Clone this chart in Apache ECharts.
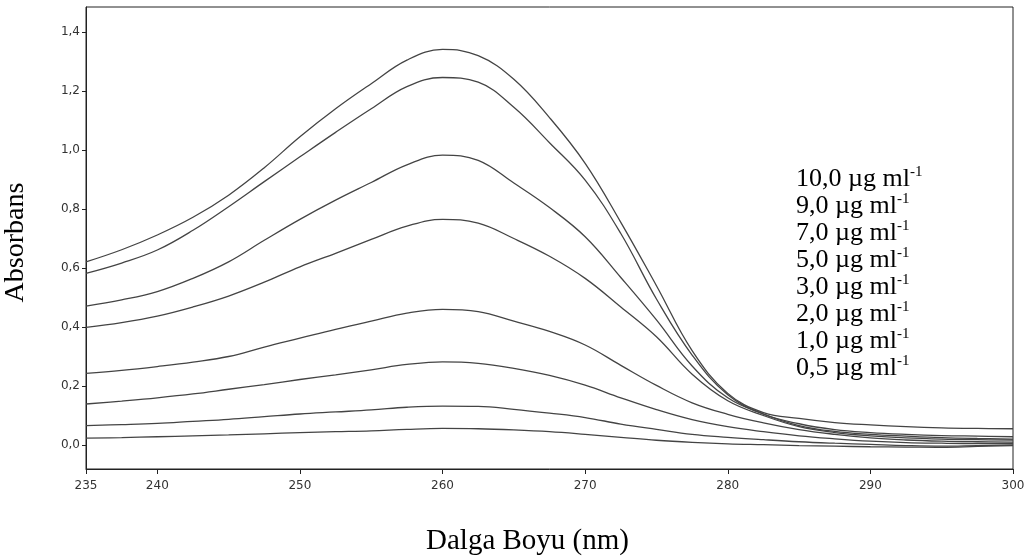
<!DOCTYPE html>
<html>
<head>
<meta charset="utf-8">
<script src="https://cdn.jsdelivr.net/npm/echarts@6/dist/echarts.min.js"></script>
<style>html,body{margin:0;padding:0;background:#fff}#c{width:1033px;height:560px}</style>
</head>
<body>
<div id="c"></div>
<script>
// Wavelengths (nm)
const wavelengths = [235, 237.5, 240, 242.5, 245, 247.5, 250, 252.5, 255, 257.5, 260, 262.5, 265, 267.5, 270, 272.5, 275, 277.5, 280, 282.5, 285, 287.5, 290, 292.5, 295, 297.5, 300];
// Concentration labels
const concentrations = ['10,0', '9,0', '7,0', '5,0', '3,0', '2,0', '1,0', '0,5'];
const unit = 'µg ml';
const unitSup = '-1';
// Absorbance values per concentration
const c10 = [0.621, 0.662, 0.712, 0.772, 0.847, 0.940, 1.045, 1.140, 1.225, 1.305, 1.341, 1.320, 1.240, 1.110, 0.955, 0.755, 0.540, 0.320, 0.175, 0.110, 0.090, 0.076, 0.068, 0.062, 0.058, 0.056, 0.055];
const c9  = [0.582, 0.617, 0.661, 0.728, 0.808, 0.893, 0.977, 1.060, 1.140, 1.215, 1.246, 1.230, 1.145, 1.025, 0.898, 0.717, 0.495, 0.305, 0.170, 0.105, 0.072, 0.052, 0.042, 0.036, 0.032, 0.030, 0.028];
const c7  = [0.471, 0.492, 0.520, 0.565, 0.621, 0.694, 0.765, 0.830, 0.890, 0.950, 0.983, 0.965, 0.888, 0.805, 0.706, 0.568, 0.424, 0.268, 0.160, 0.105, 0.066, 0.046, 0.036, 0.030, 0.025, 0.022, 0.020];
const c5  = [0.399, 0.415, 0.437, 0.468, 0.505, 0.552, 0.604, 0.650, 0.697, 0.742, 0.765, 0.752, 0.700, 0.640, 0.565, 0.468, 0.367, 0.240, 0.150, 0.100, 0.062, 0.042, 0.031, 0.024, 0.020, 0.018, 0.017];
const c3  = [0.243, 0.253, 0.266, 0.281, 0.300, 0.332, 0.362, 0.392, 0.420, 0.447, 0.460, 0.452, 0.420, 0.385, 0.339, 0.270, 0.202, 0.143, 0.104, 0.075, 0.052, 0.036, 0.024, 0.017, 0.013, 0.011, 0.010];
const c2  = [0.139, 0.149, 0.160, 0.173, 0.189, 0.205, 0.222, 0.238, 0.255, 0.273, 0.282, 0.277, 0.260, 0.236, 0.203, 0.160, 0.120, 0.086, 0.062, 0.045, 0.031, 0.021, 0.013, 0.008, 0.006, 0.005, 0.005];
const c1  = [0.066, 0.069, 0.073, 0.080, 0.087, 0.096, 0.105, 0.112, 0.119, 0.128, 0.132, 0.131, 0.121, 0.108, 0.093, 0.071, 0.053, 0.036, 0.026, 0.018, 0.011, 0.006, 0.002, -0.002, -0.004, -0.002, 0.000];
const c05 = [0.023, 0.025, 0.028, 0.031, 0.034, 0.038, 0.042, 0.045, 0.048, 0.053, 0.056, 0.055, 0.051, 0.045, 0.036, 0.026, 0.016, 0.009, 0.004, 0.001, -0.002, -0.004, -0.006, -0.007, -0.008, -0.005, -0.002];
const seriesValues = [c10, c9, c7, c5, c3, c2, c1, c05];
// Tick values
const xTicks = [235, 240, 250, 260, 270, 280, 290, 300];
const yTicks = [0, 0.2, 0.4, 0.6, 0.8, 1.0, 1.2, 1.4];

const names = concentrations.map(c => c + ' ' + unit + unitSup);

const chart = echarts.init(document.getElementById('c'), null, {renderer: 'canvas'});
const option = {
  backgroundColor: '#ffffff',
  animation: false,
  grid: {
    left: 86, right: 20, top: 7, bottom: 91,
    outerBoundsMode: 'none',
    containLabel: false,
    show: true, borderColor: '#222', borderWidth: 1, backgroundColor: 'transparent'
  },
  legend: {
    orient: 'vertical',
    left: 791, top: 165,
    padding: 0,
    itemGap: 0,
    itemWidth: 0, itemHeight: 0,
    icon: 'none',
    selectedMode: false,
    data: names,
    formatter: function (n) { return '{m|' + n.slice(0, n.length - unitSup.length) + '}{s|' + unitSup + '}'; },
    textStyle: {
      rich: {
        m: { fontFamily: 'Liberation Serif', fontSize: 26, lineHeight: 28, color: '#000' },
        s: { fontFamily: 'Liberation Serif', fontSize: 15, lineHeight: 15, verticalAlign: 'top', color: '#000' }
      }
    }
  },
  xAxis: {
    type: 'value',
    min: 235, max: 300,
    name: 'Dalga Boyu (nm)',
    nameLocation: 'middle',
    nameGap: 58,
    nameTextStyle: { fontFamily: 'Liberation Serif', fontSize: 29, color: '#000', padding: [0, 44, 0, 0] },
    axisLine: { onZero: false, lineStyle: { color: '#222', width: 1 } },
    axisTick: { show: true, customValues: xTicks, length: 5, lineStyle: { color: '#222' } },
    axisLabel: {
      customValues: xTicks,
      margin: 11,
      fontFamily: 'DejaVu Sans', fontSize: 12, color: '#333',
      formatter: v => String(v)
    },
    splitLine: { show: false }
  },
  yAxis: {
    type: 'value',
    min: -0.0814, max: 1.485,
    name: 'Absorbans',
    nameLocation: 'middle',
    nameGap: 56,
    nameRotate: 90,
    nameTextStyle: { fontFamily: 'Liberation Serif', fontSize: 28, color: '#000', padding: [0, 9, 0, 0] },
    axisLine: { show: true, onZero: false, lineStyle: { color: '#222', width: 1 } },
    axisTick: { show: true, customValues: yTicks, length: 4, lineStyle: { color: '#222' } },
    axisLabel: {
      customValues: yTicks,
      margin: 6,
      fontFamily: 'DejaVu Sans', fontSize: 12, color: '#333',
      formatter: v => v.toFixed(1).replace('.', ',')
    },
    splitLine: { show: false }
  },
  series: seriesValues.map((vals, i) => ({
    name: names[i],
    type: 'line',
    data: wavelengths.map((w, j) => [w, vals[j]]),
    showSymbol: false,
    smooth: 0.4,
    lineStyle: { color: '#444', width: 1.3 },
    itemStyle: { color: '#444' },
    emphasis: { disabled: true }
  }))
};
chart.setOption(option);
</script>
</body>
</html>
